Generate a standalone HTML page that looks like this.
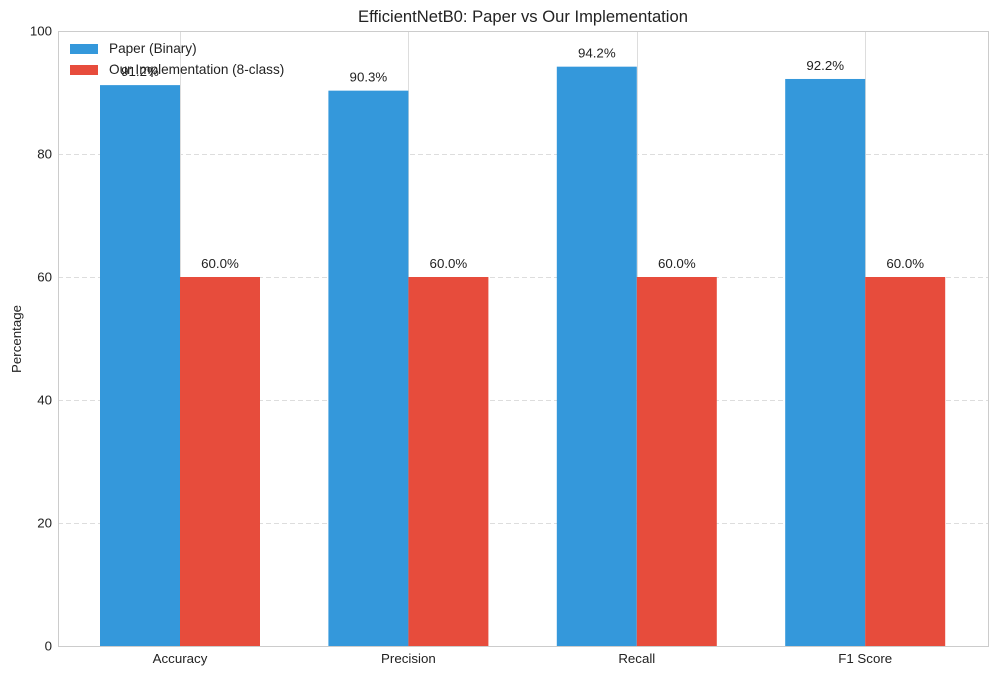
<!DOCTYPE html>
<html><head><meta charset="utf-8"><style>
body{margin:0;background:#fff;font-family:"Liberation Sans",Arial,sans-serif}
</style></head><body>
<svg id="chart" width="997" height="675" xmlns="http://www.w3.org/2000/svg" font-family="Liberation Sans, Arial, sans-serif">
<rect width="997" height="675" fill="#fff"/>
<g id="grid"></g>
<g id="bars"></g>
<g id="labels"></g>
<rect x="58.5" y="31.5" width="930" height="615" fill="none" stroke="#ccc" stroke-width="1"/>
<text x="523" y="22" text-anchor="middle" font-size="16.6" fill="#222">EfficientNetB0: Paper vs Our Implementation</text>
<text transform="translate(21,339) rotate(-90)" text-anchor="middle" font-size="13.3" fill="#222">Percentage</text>
<g>
<g><rect x="70" y="44" width="28" height="10" fill="#3498db"/><text x="109" y="53" font-size="13.6" fill="#222">Paper (Binary)</text></g>
<g><rect x="70" y="65" width="28" height="10" fill="#e74c3c"/><text x="109" y="74" font-size="13.6" fill="#222">Our Implementation (8-class)</text></g>
</g>
</svg>
<script>
const categories=["Accuracy","Precision","Recall","F1 Score"];
const paperValues=[91.2,90.3,94.2,92.2];
const oursValues=[60.0,60.0,60.0,60.0];
const yTicks=[0,20,40,60,80,100];
const NS="http://www.w3.org/2000/svg";
const L=58,R=988,T=31,B=646;
const y=v=>B-(v/100)*(B-T);
const x=i=>180+i*228.4;
const bw=80;
const fs=13.3;
function mk(tag,attrs,parent,text){const e=document.createElementNS(NS,tag);for(const k in attrs)e.setAttribute(k,attrs[k]);if(text!==undefined)e.textContent=text;parent.appendChild(e);return e;}
const grid=document.getElementById('grid'),bars=document.getElementById('bars'),labels=document.getElementById('labels');
yTicks.forEach(t=>{
  if(t>0&&t<100){const g=mk('line',{x1:L,x2:R,y1:y(t)+0.5,y2:y(t)+0.5,stroke:'#ddd','stroke-dasharray':'5,3'},grid);
  
  }
  const tl=mk('text',{x:L-6,y:y(t)+4.5,'text-anchor':'end','font-size':fs,fill:'#222'},labels,String(t));
  
  
});
categories.forEach((c,i)=>{
  const vg=mk('line',{x1:Math.round(x(i))+0.5,x2:Math.round(x(i))+0.5,y1:T,y2:B,stroke:'#ddd'},grid);
  
  
  const b1=mk('rect',{x:x(i)-bw,y:y(paperValues[i]),width:bw,height:B-y(paperValues[i]),fill:'#3498db'},bars);
  
  
  const b2=mk('rect',{x:x(i),y:y(oursValues[i]),width:bw,height:B-y(oursValues[i]),fill:'#e74c3c'},bars);
  
  
  const v1=mk('text',{x:x(i)-bw/2,y:y(paperValues[i])-9,'text-anchor':'middle','font-size':fs,fill:'#222'},labels,paperValues[i].toFixed(1)+'%');
  
  
  const v2=mk('text',{x:x(i)+bw/2,y:y(oursValues[i])-9,'text-anchor':'middle','font-size':fs,fill:'#222'},labels,oursValues[i].toFixed(1)+'%');
  
  
  const xl=mk('text',{x:x(i),y:B+17,'text-anchor':'middle','font-size':fs,fill:'#222'},labels,c);
  
  
});
</script>
</body></html>
